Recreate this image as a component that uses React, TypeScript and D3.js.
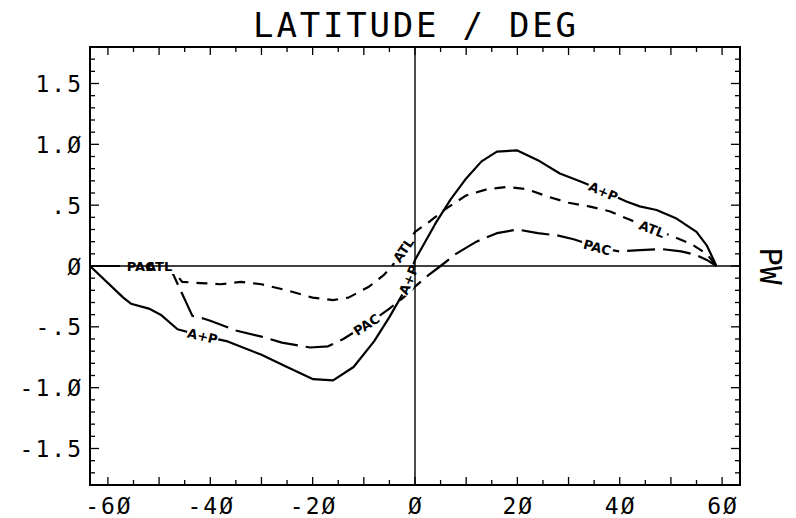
import React from 'react';
import * as d3 from 'd3';

// ---- data ----
const latAP = [-63.5, -57, -55.5, -52, -49.7, -46.4, -42, -36.6, -30, -25, -19.9, -16, -12, -8, -5, -2, 0, 2, 4, 7, 10, 13, 16, 20, 24, 28.3, 32.6, 36, 41.3, 43.9, 47.2, 51.1, 55, 57, 58.9];
const valAP = [0, -0.26, -0.31, -0.35, -0.4, -0.52, -0.57, -0.62, -0.73, -0.83, -0.93, -0.94, -0.83, -0.62, -0.42, -0.2, 0.05, 0.2, 0.35, 0.55, 0.72, 0.86, 0.94, 0.95, 0.87, 0.76, 0.69, 0.63, 0.53, 0.49, 0.46, 0.39, 0.28, 0.17, 0];

const latATL = [-63.5, -48, -45.5, -42, -38, -34, -30, -25, -20, -16, -13, -9, -6, -4.5, -2, 0, 3, 6, 10, 14, 18, 22, 26, 30, 34, 38, 42, 46, 50, 54, 57, 58.9];
const valATL = [0, 0, -0.13, -0.14, -0.15, -0.13, -0.15, -0.2, -0.26, -0.28, -0.26, -0.17, -0.07, 0, 0.15, 0.28, 0.37, 0.47, 0.58, 0.63, 0.65, 0.63, 0.57, 0.52, 0.49, 0.45, 0.38, 0.31, 0.25, 0.18, 0.1, 0];

const latPAC = [-63.5, -48, -43.5, -41.5, -40, -35, -30, -26, -20.5, -17, -14, -11, -8, -5, -2, 0, 2.5, 5, 8, 12, 16, 20, 24, 28, 31, 36, 40, 44, 48, 52, 55, 57, 58.9];
const valPAC = [0, 0, -0.41, -0.43, -0.45, -0.53, -0.58, -0.63, -0.67, -0.66, -0.6, -0.52, -0.44, -0.35, -0.25, -0.17, -0.08, 0, 0.1, 0.2, 0.27, 0.3, 0.27, 0.25, 0.22, 0.15, 0.12, 0.13, 0.14, 0.12, 0.09, 0.05, 0];

const xTickValues = [-60, -40, -20, 0, 20, 40, 60];
const yTickValues = [-1.5, -1, -0.5, 0, 0.5, 1, 1.5];
const titleText = 'LATITUDE / DEG';
const yTitleText = 'PW';

const labelTexts = ['PAC', 'ATL', 'A+P', 'PAC', 'A+P', 'ATL', 'A+P', 'ATL', 'PAC'];
const labelSeries = ['PAC', 'ATL', 'AP', 'PAC', 'AP', 'ATL', 'AP', 'ATL', 'PAC'];
const labelLats = [-53.6, -50, -41.5, -9.5, -1.3, -2.3, 36.8, 46.3, 35.6];

// ---- layout ----
const W = 796, H = 518;
const L = 90, R = 740, T = 47, B = 485;

const fmtX = (v: number) => String(v).replace(/0/g, 'Ø');
const fmtY = (v: number) => {
  if (v === 0) return 'Ø';
  let s = Math.abs(v) < 1 ? '.' + String(Math.round(Math.abs(v) * 10)) : Math.abs(v).toFixed(1);
  s = s.replace(/0/g, 'Ø');
  return (v < 0 ? '-' : '') + s;
};

export default function App() {
  const x = d3.scaleLinear().domain([-63.5, 63.5]).range([L, R]);
  const y = d3.scaleLinear().domain([-1.8, 1.8]).range([B, T]);

  const series: Record<string, { lat: number[]; val: number[]; dash: string }> = {
    AP: { lat: latAP, val: valAP, dash: 'none' },
    ATL: { lat: latATL, val: valATL, dash: '11 8' },
    PAC: { lat: latPAC, val: valPAC, dash: '28 8' },
  };

  const line = d3.line<[number, number]>().x(d => x(d[0])).y(d => y(d[1]));
  const interp = (key: string) => d3.scaleLinear().domain(series[key].lat).range(series[key].val).clamp(true);

  const labels = labelTexts.map((t, i) => {
    const f = interp(labelSeries[i]);
    const lat = labelLats[i];
    const px = x(lat), py = y(f(lat));
    const dx = x(lat + 2) - x(lat - 2);
    const dy = y(f(lat + 2)) - y(f(lat - 2));
    const ang = (Math.atan2(dy, dx) * 180) / Math.PI;
    return { t, px, py, ang };
  });

  const xMinor = d3.range(-60, 61, 5);
  const yMinor = d3.range(-18, 19, 1).map(v => v / 10);

  const mono = '"DejaVu Sans Mono", monospace';

  return (
    <svg width={W} height={H} style={{ position: 'absolute', left: 0, top: 0, background: '#fff' }}>
      <rect x={0} y={0} width={W} height={H} fill="#fff" />
      {Object.keys(series).map(k => (
        <path
          key={k}
          d={line(series[k].lat.map((la, i) => [la, series[k].val[i]] as [number, number])) || ''}
          fill="none"
          stroke="#000"
          strokeWidth={2.2}
          strokeDasharray={series[k].dash}
          strokeLinejoin="round"
        />
      ))}
      {labels.map((l, i) => (
        <rect
          key={'lb' + i}
          x={-16}
          y={-8}
          width={32}
          height={16}
          fill="#fff"
          transform={`translate(${l.px},${l.py}) rotate(${l.ang})`}
        />
      ))}
      <line x1={L} x2={R} y1={y(0)} y2={y(0)} stroke="#000" strokeWidth={1.6} />
      <line x1={x(0)} x2={x(0)} y1={T} y2={B} stroke="#000" strokeWidth={1.4} />
      {labels.map((l, i) => (
        <text
          key={'lt' + i}
          transform={`translate(${l.px},${l.py}) rotate(${l.ang})`}
          textAnchor="middle"
          dy={5}
          fontFamily='"DejaVu Sans", sans-serif'
          fontWeight="bold"
          fontSize={13}
          fill="#000"
        >
          {l.t}
        </text>
      ))}
      <rect x={L} y={T} width={R - L} height={B - T} fill="none" stroke="#000" strokeWidth={2} />
      {xMinor.map(v => {
        const len = v % 10 === 0 ? 8 : 5;
        return (
          <g key={'xt' + v}>
            <line x1={x(v)} x2={x(v)} y1={B} y2={B - len} stroke="#000" strokeWidth={1.3} />
            <line x1={x(v)} x2={x(v)} y1={T} y2={T + len} stroke="#000" strokeWidth={1.3} />
          </g>
        );
      })}
      {yMinor.map(v => {
        const len = Math.abs(Math.round(v * 10)) % 5 === 0 ? 9 : 5;
        return (
          <g key={'yt' + v}>
            <line x1={L} x2={L + len} y1={y(v)} y2={y(v)} stroke="#000" strokeWidth={1.3} />
            <line x1={R} x2={R - len} y1={y(v)} y2={y(v)} stroke="#000" strokeWidth={1.3} />
          </g>
        );
      })}
      {xTickValues.map(v => (
        <text key={'xl' + v} x={x(v) + 1} y={514} textAnchor="middle" fontFamily={mono} fontSize={23} letterSpacing={2} fill="#000">
          {fmtX(v)}
        </text>
      ))}
      {yTickValues.map(v => (
        <text key={'yl' + v} x={83} y={y(v) + 8.5} textAnchor="end" fontFamily={mono} fontSize={23} letterSpacing={2} fill="#000">
          {fmtY(v)}
        </text>
      ))}
      <text x={416} y={37} textAnchor="middle" fontFamily={mono} fontSize={34} letterSpacing={2.8} fill="#000">
        {titleText}
      </text>
      <text transform={`translate(760,${y(0)}) rotate(90)`} textAnchor="middle" fontFamily={mono} fontSize={31} fill="#000">
        {yTitleText}
      </text>
    </svg>
  );
}
